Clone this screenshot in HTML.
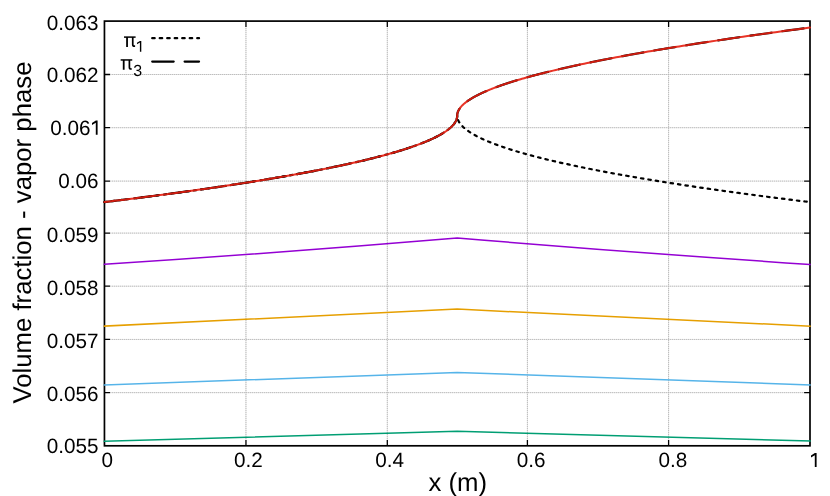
<!DOCTYPE html>
<html><head><meta charset="utf-8"><title>plot</title>
<style>
html,body{margin:0;padding:0;background:#fff;}
svg{display:block;}
text{font-family:"Liberation Sans",sans-serif;fill:#000;text-rendering:geometricPrecision;}
svg{will-change:transform;}svg text{filter:opacity(0.999);}
</style></head>
<body>
<svg width="830" height="496" viewBox="0 0 830 496">
<rect width="830" height="496" fill="#fff"/>
<g stroke="#e8e8e8" stroke-width="1" fill="none">
<path d="M110.20,392.63 H804.00"/>
<path d="M110.20,339.45 H804.00"/>
<path d="M110.20,286.20 H804.00"/>
<path d="M110.20,233.10 H804.00"/>
<path d="M110.20,181.10 H804.00"/>
<path d="M110.20,127.70 H804.00"/>
<path d="M110.20,74.50 H804.00"/>
<path d="M245.96,27.00 V439.80"/>
<path d="M387.30,27.00 V439.80"/>
<path d="M527.40,27.00 V439.80"/>
<path d="M668.60,27.00 V439.80"/>
</g>
<g stroke="#b6b6b6" stroke-width="1" stroke-dasharray="1 1" fill="none">
<path d="M111.85,392.63 H804.00"/>
<path d="M111.85,339.45 H804.00"/>
<path d="M111.85,286.20 H804.00"/>
<path d="M111.85,233.10 H804.00"/>
<path d="M111.85,181.10 H804.00"/>
<path d="M111.85,127.70 H804.00"/>
<path d="M111.85,74.50 H804.00"/>
<path d="M245.96,28.10 V439.80"/>
<path d="M387.30,28.10 V439.80"/>
<path d="M527.40,28.10 V439.80"/>
<path d="M668.60,28.10 V439.80"/>
</g>
<g stroke="#000" fill="none">
<rect x="104.45" y="21.10" width="705.55" height="424.70" stroke-width="1.7"/>
<g stroke-width="1.3">
<path d="M104.45,392.63 h5.7 M810.00,392.63 h-5.9"/>
<path d="M104.45,339.45 h5.7 M810.00,339.45 h-5.9"/>
<path d="M104.45,286.20 h5.7 M810.00,286.20 h-5.9"/>
<path d="M104.45,233.10 h5.7 M810.00,233.10 h-5.9"/>
<path d="M104.45,181.10 h5.7 M810.00,181.10 h-5.9"/>
<path d="M104.45,127.70 h5.7 M810.00,127.70 h-5.9"/>
<path d="M104.45,74.50 h5.7 M810.00,74.50 h-5.9"/>
<path d="M245.96,445.80 v-5.8 M245.96,21.10 v5.8"/>
<path d="M387.30,445.80 v-5.8 M387.30,21.10 v5.8"/>
<path d="M527.40,445.80 v-5.8 M527.40,21.10 v5.8"/>
<path d="M668.60,445.80 v-5.8 M668.60,21.10 v5.8"/>
</g></g>
<path d="M104.45,264.35 Q280.83,252.70 457.20,237.95 Q633.58,252.70 810.00,264.4" stroke="#9400d3" stroke-width="1.5" fill="none" stroke-linejoin="miter" stroke-linecap="square"/>
<path d="M104.45,326.10 L457.20,309.10 L810.00,326.10" stroke="#e69f00" stroke-width="1.5" fill="none" stroke-linejoin="miter" stroke-linecap="square"/>
<path d="M104.45,384.90 L457.20,372.50 L810.00,384.90" stroke="#56b4e9" stroke-width="1.5" fill="none" stroke-linejoin="miter" stroke-linecap="square"/>
<path d="M104.45,441.25 L457.20,431.25 L810.00,441.10" stroke="#009e73" stroke-width="1.5" fill="none" stroke-linejoin="miter" stroke-linecap="square"/>
<path d="M104.45,202.08 L109.47,201.47 L114.46,200.86 L119.41,200.25 L124.32,199.64 L129.20,199.03 L134.04,198.42 L138.84,197.81 L143.61,197.20 L148.35,196.59 L153.04,195.98 L157.70,195.37 L162.33,194.76 L166.92,194.15 L171.47,193.53 L175.99,192.92 L180.47,192.31 L184.92,191.70 L189.33,191.09 L193.70,190.48 L198.04,189.86 L202.34,189.25 L206.60,188.64 L210.83,188.03 L215.03,187.42 L219.18,186.80 L223.31,186.19 L227.39,185.58 L231.44,184.96 L235.45,184.35 L239.43,183.74 L243.37,183.13 L247.28,182.51 L251.15,181.90 L254.98,181.28 L258.78,180.67 L262.54,180.06 L266.27,179.44 L269.95,178.83 L273.61,178.22 L277.23,177.60 L280.81,176.99 L284.35,176.37 L287.86,175.76 L291.34,175.14 L294.77,174.53 L298.17,173.91 L301.54,173.30 L304.87,172.68 L308.16,172.07 L311.42,171.45 L314.64,170.84 L317.83,170.22 L320.98,169.61 L324.09,168.99 L327.17,168.37 L330.21,167.76 L333.22,167.14 L336.19,166.52 L339.12,165.91 L342.02,165.29 L344.88,164.68 L347.70,164.06 L350.49,163.44 L353.25,162.82 L355.96,162.21 L358.65,161.59 L361.29,160.97 L363.90,160.36 L366.47,159.74 L369.01,159.12 L371.51,158.50 L373.98,157.88 L376.41,157.27 L378.80,156.65 L381.16,156.03 L383.48,155.41 L385.77,154.79 L388.02,154.17 L390.23,153.56 L392.41,152.94 L394.55,152.32 L396.66,151.70 L398.73,151.08 L400.76,150.46 L402.76,149.84 L404.72,149.22 L406.65,148.60 L408.53,147.98 L410.39,147.36 L412.21,146.74 L413.99,146.12 L415.73,145.50 L417.44,144.88 L419.12,144.26 L420.76,143.64 L422.36,143.02 L423.92,142.40 L425.45,141.78 L426.95,141.16 L428.40,140.54 L429.83,139.92 L431.21,139.29 L432.56,138.67 L433.88,138.05 L435.15,137.43 L436.39,136.81 L437.60,136.19 L438.77,135.56 L439.90,134.94 L441.00,134.32 L442.06,133.70 L443.09,133.07 L444.08,132.45 L445.03,131.83 L445.95,131.21 L446.83,130.58 L447.68,129.96 L448.49,129.34 L449.26,128.71 L450.00,128.09 L450.70,127.47 L451.37,126.84 L452.00,126.22 L452.59,125.60 L453.15,124.97 L453.67,124.35 L454.16,123.72 L454.61,123.10 L455.02,122.48 L455.40,121.85 L455.74,121.23 L456.05,120.60 L456.32,119.98 L456.55,119.35 L456.75,118.73 L456.91,118.10 L457.04,117.48 L457.13,116.85 L457.18,116.23 L457.20,115.60 L457.22,116.23 L457.27,116.85 L457.36,117.48 L457.49,118.10 L457.65,118.73 L457.85,119.35 L458.08,119.98 L458.35,120.60 L458.66,121.23 L459.00,121.85 L459.38,122.48 L459.79,123.10 L460.24,123.73 L460.73,124.35 L461.25,124.97 L461.81,125.60 L462.40,126.22 L463.03,126.84 L463.70,127.47 L464.40,128.09 L465.14,128.72 L465.91,129.34 L466.72,129.96 L467.57,130.59 L468.45,131.21 L469.37,131.83 L470.32,132.45 L471.31,133.08 L472.34,133.70 L473.40,134.32 L474.50,134.94 L475.63,135.57 L476.80,136.19 L478.01,136.81 L479.25,137.43 L480.53,138.05 L481.84,138.67 L483.19,139.30 L484.58,139.92 L486.00,140.54 L487.46,141.16 L488.95,141.78 L490.48,142.40 L492.05,143.02 L493.65,143.64 L495.29,144.26 L496.96,144.88 L498.67,145.50 L500.42,146.12 L502.20,146.74 L504.02,147.36 L505.87,147.98 L507.76,148.60 L509.69,149.22 L511.65,149.84 L513.65,150.46 L515.68,151.08 L517.75,151.70 L519.86,152.32 L522.00,152.94 L524.18,153.56 L526.39,154.18 L528.64,154.80 L530.93,155.41 L533.25,156.03 L535.61,156.65 L538.00,157.27 L540.43,157.89 L542.90,158.51 L545.40,159.12 L547.94,159.74 L550.51,160.36 L553.12,160.98 L555.77,161.59 L558.45,162.21 L561.17,162.83 L563.92,163.44 L566.71,164.06 L569.54,164.68 L572.40,165.30 L575.30,165.91 L578.23,166.53 L581.20,167.14 L584.21,167.76 L587.25,168.38 L590.33,168.99 L593.44,169.61 L596.59,170.22 L599.78,170.84 L603.00,171.46 L606.26,172.07 L609.55,172.69 L612.88,173.30 L616.25,173.92 L619.65,174.53 L623.09,175.15 L626.56,175.76 L630.07,176.38 L633.62,176.99 L637.20,177.61 L640.82,178.22 L644.47,178.83 L648.16,179.45 L651.89,180.06 L655.65,180.68 L659.45,181.29 L663.28,181.90 L667.15,182.52 L671.06,183.13 L675.00,183.74 L678.98,184.36 L682.99,184.97 L687.04,185.58 L691.13,186.20 L695.25,186.81 L699.41,187.42 L703.60,188.03 L707.83,188.65 L712.10,189.26 L716.40,189.87 L720.74,190.48 L725.11,191.09 L729.52,191.71 L733.97,192.32 L738.45,192.93 L742.97,193.54 L747.52,194.15 L752.11,194.76 L756.74,195.37 L761.40,195.99 L766.10,196.60 L770.83,197.21 L775.60,197.82 L780.41,198.43 L785.25,199.04 L790.13,199.65 L795.04,200.26 L799.99,200.87 L804.98,201.48 L810.00,202.09" stroke="#000" stroke-width="2.2" stroke-dasharray="2.5 5.0" stroke-linecap="round" fill="none"/>
<path d="M104.45,202.08 L109.47,201.47 L114.46,200.86 L119.41,200.25 L124.32,199.64 L129.20,199.03 L134.04,198.42 L138.84,197.81 L143.61,197.20 L148.35,196.59 L153.04,195.98 L157.70,195.37 L162.33,194.76 L166.92,194.15 L171.47,193.53 L175.99,192.92 L180.47,192.31 L184.92,191.70 L189.33,191.09 L193.70,190.48 L198.04,189.86 L202.34,189.25 L206.60,188.64 L210.83,188.03 L215.03,187.42 L219.18,186.80 L223.31,186.19 L227.39,185.58 L231.44,184.96 L235.45,184.35 L239.43,183.74 L243.37,183.13 L247.28,182.51 L251.15,181.90 L254.98,181.28 L258.78,180.67 L262.54,180.06 L266.27,179.44 L269.95,178.83 L273.61,178.22 L277.23,177.60 L280.81,176.99 L284.35,176.37 L287.86,175.76 L291.34,175.14 L294.77,174.53 L298.17,173.91 L301.54,173.30 L304.87,172.68 L308.16,172.07 L311.42,171.45 L314.64,170.84 L317.83,170.22 L320.98,169.61 L324.09,168.99 L327.17,168.37 L330.21,167.76 L333.22,167.14 L336.19,166.52 L339.12,165.91 L342.02,165.29 L344.88,164.68 L347.70,164.06 L350.49,163.44 L353.25,162.82 L355.96,162.21 L358.65,161.59 L361.29,160.97 L363.90,160.36 L366.47,159.74 L369.01,159.12 L371.51,158.50 L373.98,157.88 L376.41,157.27 L378.80,156.65 L381.16,156.03 L383.48,155.41 L385.77,154.79 L388.02,154.17 L390.23,153.56 L392.41,152.94 L394.55,152.32 L396.66,151.70 L398.73,151.08 L400.76,150.46 L402.76,149.84 L404.72,149.22 L406.65,148.60 L408.53,147.98 L410.39,147.36 L412.21,146.74 L413.99,146.12 L415.73,145.50 L417.44,144.88 L419.12,144.26 L420.76,143.64 L422.36,143.02 L423.92,142.40 L425.45,141.78 L426.95,141.16 L428.40,140.54 L429.83,139.92 L431.21,139.29 L432.56,138.67 L433.88,138.05 L435.15,137.43 L436.39,136.81 L437.60,136.19 L438.77,135.56 L439.90,134.94 L441.00,134.32 L442.06,133.70 L443.09,133.07 L444.08,132.45 L445.03,131.83 L445.95,131.21 L446.83,130.58 L447.68,129.96 L448.49,129.34 L449.26,128.71 L450.00,128.09 L450.70,127.47 L451.37,126.84 L452.00,126.22 L452.59,125.60 L453.15,124.97 L453.67,124.35 L454.16,123.72 L454.61,123.10 L455.02,122.48 L455.40,121.85 L455.74,121.23 L456.05,120.60 L456.32,119.98 L456.55,119.35 L456.75,118.73 L456.91,118.10 L457.04,117.48 L457.13,116.85 L457.18,116.23 L457.20,115.60 L457.22,115.00 L457.27,114.40 L457.36,113.79 L457.49,113.19 L457.65,112.59 L457.85,111.98 L458.08,111.38 L458.35,110.77 L458.66,110.17 L459.00,109.56 L459.38,108.96 L459.79,108.35 L460.24,107.74 L460.73,107.14 L461.25,106.53 L461.81,105.92 L462.40,105.31 L463.03,104.70 L463.70,104.09 L464.40,103.48 L465.14,102.88 L465.91,102.26 L466.72,101.65 L467.57,101.04 L468.45,100.43 L469.37,99.82 L470.32,99.21 L471.31,98.60 L472.34,97.98 L473.40,97.37 L474.50,96.76 L475.63,96.14 L476.80,95.53 L478.01,94.91 L479.25,94.30 L480.53,93.68 L481.84,93.07 L483.19,92.45 L484.58,91.83 L486.00,91.22 L487.46,90.60 L488.95,89.98 L490.48,89.36 L492.05,88.75 L493.65,88.13 L495.29,87.51 L496.96,86.89 L498.67,86.27 L500.42,85.65 L502.20,85.03 L504.02,84.40 L505.87,83.78 L507.76,83.16 L509.69,82.54 L511.65,81.92 L513.65,81.29 L515.68,80.67 L517.75,80.05 L519.86,79.42 L522.00,78.80 L524.18,78.17 L526.39,77.55 L528.64,76.92 L530.93,76.29 L533.25,75.67 L535.61,75.04 L538.00,74.41 L540.43,73.79 L542.90,73.16 L545.40,72.53 L547.94,71.90 L550.51,71.27 L553.12,70.64 L555.77,70.01 L558.45,69.38 L561.17,68.75 L563.92,68.12 L566.71,67.49 L569.54,66.86 L572.40,66.22 L575.30,65.59 L578.23,64.96 L581.20,64.32 L584.21,63.69 L587.25,63.06 L590.33,62.42 L593.44,61.79 L596.59,61.15 L599.78,60.52 L603.00,59.88 L606.26,59.24 L609.55,58.61 L612.88,57.97 L616.25,57.33 L619.65,56.69 L623.09,56.06 L626.56,55.42 L630.07,54.78 L633.62,54.14 L637.20,53.50 L640.82,52.86 L644.47,52.22 L648.16,51.58 L651.89,50.93 L655.65,50.29 L659.45,49.65 L663.28,49.01 L667.15,48.36 L671.06,47.72 L675.00,47.08 L678.98,46.43 L682.99,45.79 L687.04,45.14 L691.13,44.50 L695.25,43.85 L699.41,43.21 L703.60,42.56 L707.83,41.91 L712.10,41.27 L716.40,40.62 L720.74,39.97 L725.11,39.32 L729.52,38.67 L733.97,38.03 L738.45,37.38 L742.97,36.73 L747.52,36.08 L752.11,35.43 L756.74,34.77 L761.40,34.12 L766.10,33.47 L770.83,32.82 L775.60,32.17 L780.41,31.51 L785.25,30.86 L790.13,30.21 L795.04,29.55 L799.99,28.90 L804.98,28.24 L810.00,27.59" stroke="#000" stroke-width="2.2" stroke-dasharray="21.5 10.9" stroke-linecap="round" fill="none"/>
<path d="M104.45,202.08 L109.47,201.47 L114.46,200.86 L119.41,200.25 L124.32,199.64 L129.20,199.03 L134.04,198.42 L138.84,197.81 L143.61,197.20 L148.35,196.59 L153.04,195.98 L157.70,195.37 L162.33,194.76 L166.92,194.15 L171.47,193.53 L175.99,192.92 L180.47,192.31 L184.92,191.70 L189.33,191.09 L193.70,190.48 L198.04,189.86 L202.34,189.25 L206.60,188.64 L210.83,188.03 L215.03,187.42 L219.18,186.80 L223.31,186.19 L227.39,185.58 L231.44,184.96 L235.45,184.35 L239.43,183.74 L243.37,183.13 L247.28,182.51 L251.15,181.90 L254.98,181.28 L258.78,180.67 L262.54,180.06 L266.27,179.44 L269.95,178.83 L273.61,178.22 L277.23,177.60 L280.81,176.99 L284.35,176.37 L287.86,175.76 L291.34,175.14 L294.77,174.53 L298.17,173.91 L301.54,173.30 L304.87,172.68 L308.16,172.07 L311.42,171.45 L314.64,170.84 L317.83,170.22 L320.98,169.61 L324.09,168.99 L327.17,168.37 L330.21,167.76 L333.22,167.14 L336.19,166.52 L339.12,165.91 L342.02,165.29 L344.88,164.68 L347.70,164.06 L350.49,163.44 L353.25,162.82 L355.96,162.21 L358.65,161.59 L361.29,160.97 L363.90,160.36 L366.47,159.74 L369.01,159.12 L371.51,158.50 L373.98,157.88 L376.41,157.27 L378.80,156.65 L381.16,156.03 L383.48,155.41 L385.77,154.79 L388.02,154.17 L390.23,153.56 L392.41,152.94 L394.55,152.32 L396.66,151.70 L398.73,151.08 L400.76,150.46 L402.76,149.84 L404.72,149.22 L406.65,148.60 L408.53,147.98 L410.39,147.36 L412.21,146.74 L413.99,146.12 L415.73,145.50 L417.44,144.88 L419.12,144.26 L420.76,143.64 L422.36,143.02 L423.92,142.40 L425.45,141.78 L426.95,141.16 L428.40,140.54 L429.83,139.92 L431.21,139.29 L432.56,138.67 L433.88,138.05 L435.15,137.43 L436.39,136.81 L437.60,136.19 L438.77,135.56 L439.90,134.94 L441.00,134.32 L442.06,133.70 L443.09,133.07 L444.08,132.45 L445.03,131.83 L445.95,131.21 L446.83,130.58 L447.68,129.96 L448.49,129.34 L449.26,128.71 L450.00,128.09 L450.70,127.47 L451.37,126.84 L452.00,126.22 L452.59,125.60 L453.15,124.97 L453.67,124.35 L454.16,123.72 L454.61,123.10 L455.02,122.48 L455.40,121.85 L455.74,121.23 L456.05,120.60 L456.32,119.98 L456.55,119.35 L456.75,118.73 L456.91,118.10 L457.04,117.48 L457.13,116.85 L457.18,116.23 L457.20,115.60 L457.22,115.00 L457.27,114.40 L457.36,113.79 L457.49,113.19 L457.65,112.59 L457.85,111.98 L458.08,111.38 L458.35,110.77 L458.66,110.17 L459.00,109.56 L459.38,108.96 L459.79,108.35 L460.24,107.74 L460.73,107.14 L461.25,106.53 L461.81,105.92 L462.40,105.31 L463.03,104.70 L463.70,104.09 L464.40,103.48 L465.14,102.88 L465.91,102.26 L466.72,101.65 L467.57,101.04 L468.45,100.43 L469.37,99.82 L470.32,99.21 L471.31,98.60 L472.34,97.98 L473.40,97.37 L474.50,96.76 L475.63,96.14 L476.80,95.53 L478.01,94.91 L479.25,94.30 L480.53,93.68 L481.84,93.07 L483.19,92.45 L484.58,91.83 L486.00,91.22 L487.46,90.60 L488.95,89.98 L490.48,89.36 L492.05,88.75 L493.65,88.13 L495.29,87.51 L496.96,86.89 L498.67,86.27 L500.42,85.65 L502.20,85.03 L504.02,84.40 L505.87,83.78 L507.76,83.16 L509.69,82.54 L511.65,81.92 L513.65,81.29 L515.68,80.67 L517.75,80.05 L519.86,79.42 L522.00,78.80 L524.18,78.17 L526.39,77.55 L528.64,76.92 L530.93,76.29 L533.25,75.67 L535.61,75.04 L538.00,74.41 L540.43,73.79 L542.90,73.16 L545.40,72.53 L547.94,71.90 L550.51,71.27 L553.12,70.64 L555.77,70.01 L558.45,69.38 L561.17,68.75 L563.92,68.12 L566.71,67.49 L569.54,66.86 L572.40,66.22 L575.30,65.59 L578.23,64.96 L581.20,64.32 L584.21,63.69 L587.25,63.06 L590.33,62.42 L593.44,61.79 L596.59,61.15 L599.78,60.52 L603.00,59.88 L606.26,59.24 L609.55,58.61 L612.88,57.97 L616.25,57.33 L619.65,56.69 L623.09,56.06 L626.56,55.42 L630.07,54.78 L633.62,54.14 L637.20,53.50 L640.82,52.86 L644.47,52.22 L648.16,51.58 L651.89,50.93 L655.65,50.29 L659.45,49.65 L663.28,49.01 L667.15,48.36 L671.06,47.72 L675.00,47.08 L678.98,46.43 L682.99,45.79 L687.04,45.14 L691.13,44.50 L695.25,43.85 L699.41,43.21 L703.60,42.56 L707.83,41.91 L712.10,41.27 L716.40,40.62 L720.74,39.97 L725.11,39.32 L729.52,38.67 L733.97,38.03 L738.45,37.38 L742.97,36.73 L747.52,36.08 L752.11,35.43 L756.74,34.77 L761.40,34.12 L766.10,33.47 L770.83,32.82 L775.60,32.17 L780.41,31.51 L785.25,30.86 L790.13,30.21 L795.04,29.55 L799.99,28.90 L804.98,28.24 L810.00,27.59" stroke="#e51e10" stroke-opacity="0.9" stroke-width="2.0" stroke-linejoin="round" stroke-linecap="round" fill="none"/>
<path d="M152.2,38.15 H199.05" stroke="#000" stroke-width="2.2" stroke-dasharray="2.5 5.0" stroke-linecap="round" fill="none"/>
<path d="M152.2,61.6 H199.05" stroke="#000" stroke-width="2.2" stroke-dasharray="21.5 10.9" stroke-linecap="round" fill="none"/>
<g transform="translate(0.00,0.00)" stroke="#000" fill="none"><path d="M124.0,37.1 H135.6" stroke-width="1.5"/><path d="M127.05,37.1 V46.9" stroke-width="1.8"/><path d="M132.75,37.1 V44.4 Q132.75,46.15 134.4,46.15 H135.1" stroke-width="1.7"/></g>
<g transform="translate(-3.35,22.85)" stroke="#000" fill="none"><path d="M124.0,37.1 H135.6" stroke-width="1.5"/><path d="M127.05,37.1 V46.9" stroke-width="1.8"/><path d="M132.75,37.1 V44.4 Q132.75,46.15 134.4,46.15 H135.1" stroke-width="1.7"/></g>
<path d="M141.30,41.00 L139.95,41.00 L136.97,42.82 L136.97,44.32 L139.90,42.58 L139.90,51.76 L141.30,51.76 Z" fill="#000"/>
<text x="142.1" y="75.6" font-size="16" text-anchor="end">3</text>
<g font-size="20.7">
<text x="98.6" y="453.10" text-anchor="end">0.055</text>
<text x="98.6" y="401.00" text-anchor="end">0.056</text>
<text x="98.6" y="347.60" text-anchor="end">0.057</text>
<text x="98.6" y="294.50" text-anchor="end">0.058</text>
<text x="98.6" y="241.50" text-anchor="end">0.059</text>
<text x="98.6" y="187.80" text-anchor="end">0.06</text>
<text x="90.6" y="134.80" text-anchor="end">0.06</text>
<path d="M97.60,120.60 L95.85,120.60 L92.00,122.95 L92.00,124.90 L95.80,122.65 L95.80,134.80 L97.60,134.80 Z" fill="#000"/>
<text x="98.6" y="81.70" text-anchor="end">0.062</text>
<text x="98.6" y="29.60" text-anchor="end">0.063</text>
<text x="107.20" y="467.2" text-anchor="middle">0</text>
<text x="248.30" y="467.2" text-anchor="middle">0.2</text>
<text x="389.70" y="467.2" text-anchor="middle">0.4</text>
<text x="531.05" y="467.2" text-anchor="middle">0.6</text>
<text x="672.80" y="467.2" text-anchor="middle">0.8</text>
<path d="M816.60,453.10 L814.85,453.10 L811.00,455.45 L811.00,457.40 L814.80,455.15 L814.80,467.00 L816.60,467.00 Z" fill="#000"/>
</g>
<text x="457.8" y="491.4" font-size="25.75" text-anchor="middle">x (m)</text>
<text transform="translate(30.6,232.55) rotate(-90)" font-size="25.75" text-anchor="middle">Volume fraction - vapor phase</text>
</svg>
</body></html>
